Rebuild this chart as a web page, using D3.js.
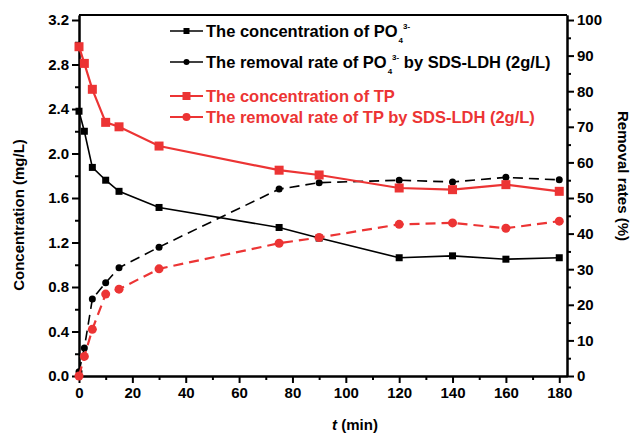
<!DOCTYPE html>
<html>
<head>
<meta charset="utf-8">
<script src="https://cdn.jsdelivr.net/npm/d3@7"></script>
<style>
  body { margin: 0; background: #fff; }
  svg text { font-family: "Liberation Sans", Arial, sans-serif; font-weight: bold; }
</style>
</head>
<body>
<div id="chart"></div>
<script>
// time points (min)
const times = [0, 2, 5, 10, 15, 30, 75, 90, 120, 140, 160, 180];
// concentration (mg/L)
const po4Conc = [2.38, 2.20, 1.875, 1.76, 1.66, 1.515, 1.335, 1.24, 1.063, 1.08, 1.05, 1.063];
const tpConc = [2.96, 2.81, 2.577, 2.28, 2.24, 2.067, 1.85, 1.807, 1.69, 1.675, 1.72, 1.66];
// removal rate (%)
const po4Removal = [1.2, 7.9, 21.6, 26.2, 30.4, 36.2, 52.5, 54.3, 55.0, 54.5, 55.8, 55.1];
const tpRemoval = [0, 5.5, 13.1, 23.0, 24.4, 30.1, 37.3, 38.9, 42.6, 43.0, 41.5, 43.5];

const leftTicks = [0, 0.4, 0.8, 1.2, 1.6, 2.0, 2.4, 2.8, 3.2];
const rightTicks = [0, 10, 20, 30, 40, 50, 60, 70, 80, 90, 100];
const xTicks = [0, 20, 40, 60, 80, 100, 120, 140, 160, 180];

const RED = '#ec3434';

var width = 636, height = 438;
var margin = {top: 15, right: 69, bottom: 62, left: 79};
var w = width - margin.left - margin.right;
var h = height - margin.top - margin.bottom;

var x = d3.scaleLinear().domain([0, 182.9]).range([0, w]);
var yL = d3.scaleLinear().domain([0, 3.245]).range([h, 0]);
var yR = d3.scaleLinear().domain([0, 3.245 / 0.032]).range([h, 0]);

var svg = d3.select('#chart').append('svg')
    .attr('width', width)
    .attr('height', height);

var g = svg.append('g')
    .attr('transform', 'translate(' + margin.left + ',' + margin.top + ')');

// top frame line
g.append('line')
    .attr('x1', 0).attr('x2', w).attr('y1', 0).attr('y2', 0)
    .attr('stroke', '#000').attr('stroke-width', 2);

function styleAxis(sel) {
    sel.select('.domain').attr('stroke', '#000').attr('stroke-width', 2);
    sel.selectAll('line').attr('stroke', '#000').attr('stroke-width', 2);
    sel.selectAll('text').attr('fill', '#000').attr('font-size', 15);
}

// minor ticks
g.append('g')
    .attr('transform', 'translate(0,' + h + ')')
    .call(d3.axisBottom(x).tickValues(d3.range(10, 181, 20)).tickSize(4).tickFormat('').tickSizeOuter(0))
    .call(styleAxis);
g.append('g')
    .call(d3.axisLeft(yL).tickValues(d3.range(0.2, 3.3, 0.4)).tickSize(4).tickFormat('').tickSizeOuter(0))
    .call(styleAxis);
g.append('g')
    .attr('transform', 'translate(' + w + ',0)')
    .call(d3.axisRight(yR).tickValues(d3.range(5, 100, 10)).tickSize(4).tickFormat('').tickSizeOuter(0))
    .call(styleAxis);

// major axes
g.append('g')
    .attr('transform', 'translate(0,' + h + ')')
    .call(d3.axisBottom(x).tickValues(xTicks).tickSize(7).tickPadding(4).tickSizeOuter(0))
    .call(styleAxis);
g.append('g')
    .call(d3.axisLeft(yL).tickValues(leftTicks).tickFormat(d3.format('.1f')).tickSize(7).tickPadding(3).tickSizeOuter(0))
    .call(styleAxis);
g.append('g')
    .attr('transform', 'translate(' + w + ',0)')
    .call(d3.axisRight(yR).tickValues(rightTicks).tickSize(7).tickPadding(3).tickSizeOuter(0))
    .call(styleAxis);

// axis titles
svg.append('text')
    .attr('transform', 'translate(24,215) rotate(-90)')
    .attr('text-anchor', 'middle')
    .attr('font-size', 15)
    .text('Concentration (mg/L)');
svg.append('text')
    .attr('transform', 'translate(618,176) rotate(90)')
    .attr('text-anchor', 'middle')
    .attr('font-size', 15)
    .text('Removal rates (%)');
var xt = svg.append('text')
    .attr('x', 355).attr('y', 430)
    .attr('text-anchor', 'middle')
    .attr('font-size', 15);
xt.append('tspan').attr('font-style', 'italic').text('t');
xt.append('tspan').text(' (min)');

// series
var series = [
    {vals: po4Conc, y: yL, color: '#000', dash: null, shape: 'square', size: 7, lw: 1.6},
    {vals: po4Removal, y: yR, color: '#000', dash: '10,6', shape: 'circle', size: 7, lw: 1.6},
    {vals: tpConc, y: yL, color: RED, dash: null, shape: 'square', size: 9, lw: 2.2},
    {vals: tpRemoval, y: yR, color: RED, dash: '10,6', shape: 'circle', size: 9, lw: 2.2}
];

function drawMarker(sel, s, size) {
    if (s.shape === 'square') {
        sel.append('rect')
            .attr('x', -size / 2).attr('y', -size / 2)
            .attr('width', size).attr('height', size)
            .attr('fill', s.color);
    } else {
        sel.append('circle').attr('r', size / 2).attr('fill', s.color);
    }
}

series.forEach(function(s) {
    var line = d3.line()
        .x(function(d, i) { return x(times[i]); })
        .y(function(d) { return s.y(d); });
    g.append('path')
        .datum(s.vals)
        .attr('d', line)
        .attr('fill', 'none')
        .attr('stroke', s.color)
        .attr('stroke-width', s.lw)
        .attr('stroke-dasharray', s.dash);
    g.selectAll(null)
        .data(s.vals)
        .enter()
        .append('g')
        .attr('transform', function(d, i) { return 'translate(' + x(times[i]) + ',' + s.y(d) + ')'; })
        .each(function() { drawMarker(d3.select(this), s, s.size); });
});

// legend
var legendY = [31, 62, 96, 117];
series.forEach(function(s, i) {
    var lg = svg.append('g').attr('transform', 'translate(170,' + legendY[i] + ')');
    lg.append('line')
        .attr('x1', 0).attr('x2', 33)
        .attr('stroke', s.color).attr('stroke-width', s.lw);
    var m = lg.append('g').attr('transform', 'translate(16.5,0)');
    drawMarker(m, s, s.size - 1);
    var t = lg.append('text')
        .attr('x', 36).attr('y', 6)
        .attr('font-size', 16.5)
        .attr('fill', s.color);
    if (i === 0) {
        t.append('tspan').text('The concentration of PO');
        t.append('tspan').attr('font-size', 8).attr('dx', 1).attr('dy', 6).text('4');
        t.append('tspan').attr('font-size', 8).attr('dx', 0).attr('dy', -14).text('3-');
    } else if (i === 1) {
        t.append('tspan').text('The removal rate of PO');
        t.append('tspan').attr('font-size', 8).attr('dx', 1).attr('dy', 6).text('4');
        t.append('tspan').attr('font-size', 8).attr('dx', 0).attr('dy', -14).text('3-');
        t.append('tspan').attr('dy', 8).text(' by SDS-LDH (2g/L)');
    } else if (i === 2) {
        t.text('The concentration of TP');
    } else {
        t.text('The removal rate of TP by SDS-LDH (2g/L)');
    }
});
</script>
</body>
</html>
